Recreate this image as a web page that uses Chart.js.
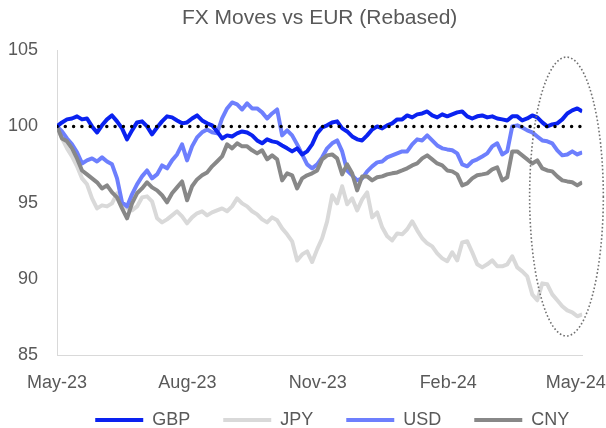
<!DOCTYPE html>
<html>
<head>
<meta charset="utf-8">
<title>FX Moves vs EUR (Rebased)</title>
<script src="https://cdn.jsdelivr.net/npm/chart.js@4.4.1/dist/chart.umd.min.js"></script>
<style>
  body { margin: 0; background: #ffffff; }
  #wrap { width: 606px; height: 428px; }
</style>
</head>
<body>
<div id="wrap"><canvas id="fx"></canvas></div>
<script>
// series, rebased to 100 at the start of May-23, sampled about twice a week
var currencies = ['GBP', 'JPY', 'USD', 'CNY'];
var lineColors = ['#0a22f0', '#d9d9d9', '#6d7ffd', '#888888'];

var gbp = [100.00,100.26,100.46,100.52,100.66,100.46,100.52,100.00,99.60,100.07,
  100.46,100.72,100.33,99.87,99.15,99.74,100.26,100.33,100.00,99.48,
  99.93,100.33,100.66,100.59,100.39,100.20,100.26,100.52,100.72,100.39,
  100.20,100.07,99.67,99.21,99.41,99.34,99.54,99.67,99.60,99.41,
  99.08,98.89,99.15,99.02,98.95,98.75,98.56,98.36,98.56,98.16,
  98.36,98.82,99.54,99.93,100.07,100.26,100.33,99.87,99.67,99.34,
  99.15,99.08,99.41,99.80,100.00,99.87,100.07,100.20,100.46,100.46,
  100.72,100.59,100.79,100.85,100.98,100.72,100.59,100.79,100.66,100.79,
  100.92,100.98,100.66,100.52,100.66,100.72,100.59,100.66,100.52,100.46,
  100.39,100.66,100.66,100.39,100.52,100.72,100.59,100.26,100.00,100.13,
  100.20,100.46,100.85,101.05,101.18,100.98];

var jpy = [100.00,99.21,98.56,98.03,97.38,96.59,96.20,95.28,94.62,94.82,
  94.75,94.95,95.61,94.89,94.62,94.49,94.75,95.34,95.41,95.08,
  93.97,93.70,93.90,94.16,94.43,94.10,93.64,94.03,94.30,94.43,
  94.16,94.36,94.49,94.62,94.43,94.75,95.28,94.95,94.75,94.43,
  94.23,93.90,93.70,94.03,93.84,93.31,92.92,92.46,91.20,91.60,
  91.80,91.10,91.93,92.66,93.77,95.48,94.95,96.07,94.89,95.28,
  94.49,95.21,95.67,94.03,94.36,93.38,92.79,92.52,92.98,92.92,
  93.25,93.77,93.18,92.66,92.33,92.13,91.67,91.34,91.15,91.74,
  91.21,92.39,92.46,91.74,90.95,90.75,90.95,91.21,90.82,90.82,
  90.95,91.48,90.75,90.49,90.16,88.98,88.59,89.70,89.64,88.98,
  88.59,88.20,87.93,87.80,87.54,87.67];

var usd = [100.00,99.67,99.21,98.82,98.30,97.57,97.77,97.90,97.70,97.97,
  97.70,97.51,96.59,95.02,94.75,95.54,96.20,96.72,97.11,96.59,
  96.85,97.44,97.25,97.77,98.16,98.82,97.77,98.69,99.28,99.61,
  99.80,99.61,99.54,100.52,101.18,101.57,101.44,101.11,101.51,101.18,
  101.18,100.92,100.52,100.85,101.11,99.41,99.74,99.41,98.82,98.16,
  97.51,97.25,97.51,97.97,98.56,98.89,99.08,98.36,97.11,96.79,
  96.46,96.59,97.05,97.38,97.64,97.70,97.97,98.10,98.23,98.36,
  98.36,98.82,99.15,99.08,99.41,99.08,98.75,98.56,98.49,98.43,
  98.23,97.51,97.38,97.70,97.84,98.03,98.23,98.69,98.89,98.16,
  98.36,100.00,100.07,99.93,99.74,99.61,99.34,99.08,99.02,98.89,
  98.43,98.10,98.16,98.36,98.16,98.30];

var cny = [100.00,99.21,99.02,98.56,97.90,97.11,96.85,96.59,96.33,95.93,
  96.13,95.67,95.34,94.62,93.97,94.95,95.61,95.93,96.33,96.00,
  95.80,95.48,95.02,95.61,96.00,96.39,95.15,96.07,96.52,96.79,
  96.98,97.38,97.70,98.03,98.82,98.56,98.89,98.69,98.69,98.43,
  98.23,98.43,97.84,98.10,97.84,96.46,96.92,96.79,95.93,96.59,
  96.79,96.92,97.11,97.84,98.10,98.16,97.90,96.85,97.51,96.92,
  95.80,96.72,96.72,96.46,96.66,96.72,96.85,96.92,96.98,97.11,
  97.25,97.44,97.57,97.90,98.10,97.84,97.57,97.44,97.11,97.05,
  96.85,96.13,96.26,96.59,96.79,96.85,96.92,97.18,97.31,96.46,
  96.66,98.36,98.36,98.10,97.84,97.57,97.77,97.25,97.11,97.05,
  96.72,96.46,96.39,96.33,96.13,96.33];

var series = [gbp, jpy, usd, cny];
var drawOrder = [1, 4, 3, 2];   // GBP on top, JPY at the back

var base = 100;                 // rebasing level, drawn as the dotted line
var stepDays = 3.53;            // days between observations
var monthDays = [0, 92, 184, 276, 366];   // days from 1 May 2023
var monthLabels = ['May-23', 'Aug-23', 'Nov-23', 'Feb-24', 'May-24'];
var yMin = 85, yMax = 105, yStep = 5;

// dotted ring around the latest moves (centre day / value, half-width in days / points)
var ring = { day: 359.5, value: 95.4, days: 26, span: 9.15 };

var lastDay = (gbp.length - 1) * stepDays;
var textGrey = '#595959';

function toPoints(values) {
  return values.map(function(v, i) {
    return { x: i * stepDays, y: v };
  });
}

var ringPlugin = {
  id: 'ring',
  afterDatasetsDraw: function(chart) {
    var xs = chart.scales.x, ys = chart.scales.y, ctx = chart.ctx;
    var cx = xs.getPixelForValue(ring.day);
    var cy = ys.getPixelForValue(ring.value);
    var rx = xs.getPixelForValue(ring.day + ring.days) - cx;
    var ry = ys.getPixelForValue(ring.value - ring.span) - cy;
    ctx.save();
    ctx.strokeStyle = '#707070';
    ctx.lineWidth = 1.6;
    ctx.setLineDash([1.6, 2.2]);
    ctx.beginPath();
    ctx.ellipse(cx, cy, rx, ry, 0, 0, 2 * Math.PI);
    ctx.stroke();
    ctx.restore();
  }
};

var datasets = currencies.map(function(name, k) {
  return {
    label: name,
    data: toPoints(series[k]),
    borderColor: lineColors[k],
    backgroundColor: lineColors[k],
    borderWidth: 4,
    borderJoinStyle: 'round',
    pointRadius: 0,
    order: drawOrder[k]
  };
});

datasets.push({
  label: 'base',
  data: [{ x: 0, y: base }, { x: lastDay, y: base }],
  borderColor: '#000000',
  borderWidth: 3.5,
  borderDash: [0, 8.3],
  borderCapStyle: 'round',
  pointRadius: 0,
  order: 0
});

Chart.defaults.font.family = "'Liberation Sans', Arial, sans-serif";
Chart.defaults.color = textGrey;

var config = {
  type: 'line',
  data: { datasets: datasets },
  options: {
    responsive: true,
    maintainAspectRatio: false,
    animation: false,
    layout: { padding: { left: 8, right: -4, top: 0, bottom: -11 } },
    plugins: {
      tooltip: { enabled: false },
      title: {
        display: true,
        fullSize: false,
        text: 'FX Moves vs EUR (Rebased)',
        color: textGrey,
        font: { size: 21, weight: 'normal' },
        padding: { top: 6, bottom: 19 }
      },
      legend: {
        position: 'bottom',
        align: 'end',
        fullSize: false,
        labels: {
          boxWidth: 48,
          boxHeight: 4,
          padding: 8,
          color: textGrey,
          font: { size: 18 },
          generateLabels: function(chart) {
            var items = Chart.defaults.plugins.legend.labels.generateLabels(chart)
              .filter(function(it) { return it.text !== 'base'; })
              .sort(function(a, b) { return a.datasetIndex - b.datasetIndex; });
            items.forEach(function(it, i) {
              it.lineWidth = 0;
              // trailing spaces keep the entries apart
              it.text = it.text + (i < items.length - 1 ? '     ' : ' ');
            });
            return items;
          }
        }
      }
    },
    scales: {
      x: {
        type: 'linear',
        min: 0,
        max: lastDay,
        // tick marks are hidden, their length only spaces the labels
        grid: { display: false, drawTicks: true, tickLength: 17 },
        border: { display: true, color: '#d9d9d9', width: 1 },
        afterBuildTicks: function(axis) {
          axis.ticks = monthDays.map(function(d) { return { value: d }; });
        },
        afterFit: function(axis) { axis.height = 48; },
        ticks: {
          autoSkip: false,
          maxRotation: 0,
          padding: 0,
          color: textGrey,
          font: { size: 18 },
          callback: function(value) {
            var k = monthDays.indexOf(value);
            return k >= 0 ? monthLabels[k] : '';
          }
        }
      },
      y: {
        min: yMin,
        max: yMax,
        grid: { display: false, drawTicks: false },
        border: { display: true, color: '#d9d9d9', width: 1 },
        afterFit: function(axis) { axis.width = 49; },
        ticks: {
          stepSize: yStep,
          padding: 19,
          color: textGrey,
          font: { size: 18 }
        }
      }
    }
  },
  plugins: [ringPlugin]
};

window.onload = function() {
  window.fxChart = new Chart(document.getElementById('fx'), config);
};
</script>
</body>
</html>
